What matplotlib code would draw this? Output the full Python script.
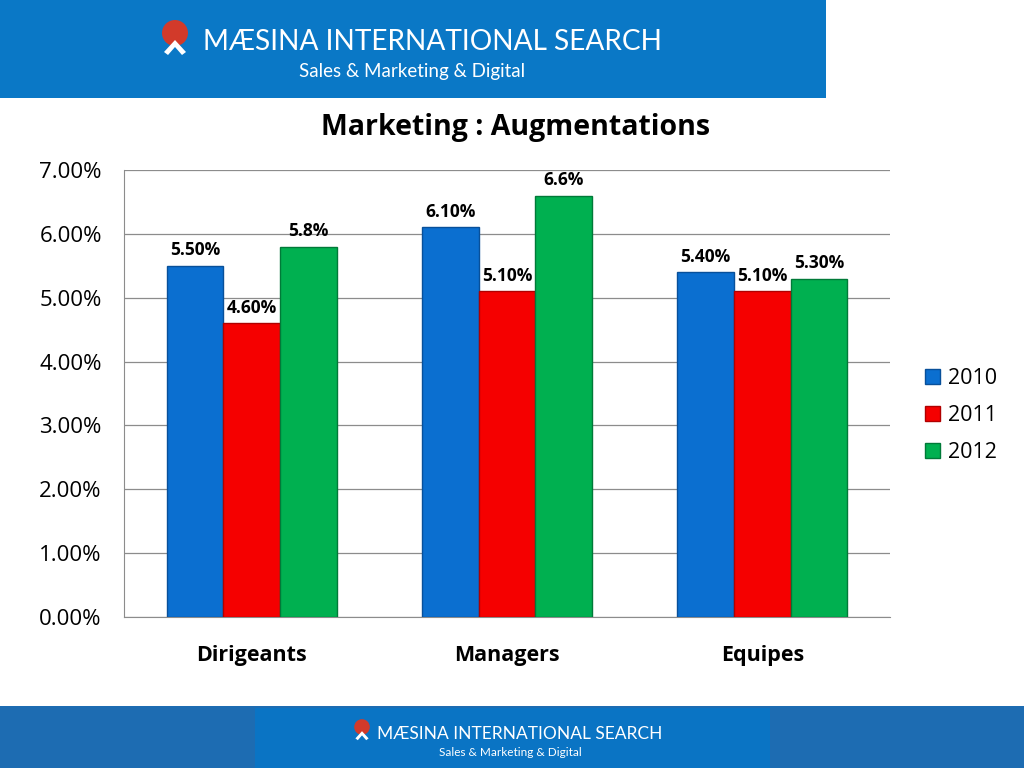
import numpy as np
import matplotlib.pyplot as plt
from matplotlib.patches import Rectangle, Ellipse, Polygon

# data
categories = ['Dirigeants', 'Managers', 'Equipes']
years = ['2010', '2011', '2012']
values = {
    '2010': [5.5, 6.1, 5.4],
    '2011': [4.6, 5.1, 5.1],
    '2012': [5.8, 6.6, 5.3],
}
value_labels = {
    '2010': ['5.50%', '6.10%', '5.40%'],
    '2011': ['4.60%', '5.10%', '5.10%'],
    '2012': ['5.8%', '6.6%', '5.30%'],
}
colors = {'2010': '#0b6fd0', '2011': '#f50000', '2012': '#00b050'}
edges = {'2010': '#08509a', '2011': '#b00000', '2012': '#007a38'}

plt.rcParams['font.family'] = ['Open Sans', 'DejaVu Sans']

fig = plt.figure(figsize=(10.24, 7.68), dpi=100)
W, H = 1024, 768


def fx(px):
    return px / W


def fy(py):
    return 1 - py / H


def logo(x0, y0, scale, size_main, size_sub, text_x, text_y, sub_x, sub_y):
    # red disc with white chevron
    r = 13 * scale
    fig.patches.append(Ellipse((fx(x0), fy(y0)), 2 * r / W, 2 * r / H,
                               transform=fig.transFigure, facecolor='#d23a2a',
                               edgecolor='none', zorder=3))
    pts = [(x0 - 11 * scale, y0 + 19 * scale), (x0, y0 + 7 * scale),
           (x0 + 11 * scale, y0 + 19 * scale), (x0 + 7 * scale, y0 + 22 * scale),
           (x0, y0 + 14 * scale), (x0 - 7 * scale, y0 + 22 * scale)]
    fig.patches.append(Polygon([(fx(a), fy(b)) for a, b in pts], closed=True,
                               transform=fig.transFigure, facecolor='white',
                               edgecolor='none', zorder=4))
    fig.text(fx(text_x), fy(text_y), 'MÆSINA INTERNATIONAL SEARCH',
             color='white', fontsize=size_main, family='Lato', va='center', ha='left',
             zorder=5)
    fig.text(fx(sub_x), fy(sub_y), 'Sales & Marketing & Digital', color='white',
             fontsize=size_sub, family='Lato', va='center', ha='center', zorder=5)


# top banner
fig.patches.append(Rectangle((0, fy(98)), fx(826), 98 / H, transform=fig.transFigure,
                             facecolor='#0a78c6', edgecolor='none', zorder=1))
logo(175, 33, 1.0, 20.2, 13.5, 203, 42, 412, 71)

# bottom banner
fig.patches.append(Rectangle((0, 0), 1, fy(706), transform=fig.transFigure,
                             facecolor='#1d6cb2', edgecolor='none', zorder=1))
fig.patches.append(Rectangle((fx(255), 0), fx(770) - fx(255), fy(708),
                             transform=fig.transFigure, facecolor='#0a74c4',
                             edgecolor='none', zorder=2))
logo(362, 727, 0.6, 12.5, 8.5, 377, 734, 510, 752)

# chart
ax = fig.add_axes([fx(124), fy(617), fx(890) - fx(124), fy(170) - fy(617)])
x = np.arange(len(categories))
bw = 0.222
for i, yr in enumerate(years):
    pos = x + (i - 1) * bw
    ax.bar(pos, values[yr], width=bw, color=colors[yr], edgecolor=edges[yr],
           linewidth=1, zorder=3, label=yr)
    for p, v, lab in zip(pos, values[yr], value_labels[yr]):
        ax.text(p, v + 0.1, lab, ha='center', va='bottom', fontsize=12.5,
                fontweight='bold', family='Open Sans', zorder=4)

ax.set_xlim(-0.5, 2.5)
ax.set_ylim(0, 7)
ax.set_yticks(np.arange(0, 8, 1))
ax.set_yticklabels([f'{v:.2f}%' for v in range(8)], fontsize=16)
ax.set_xticks(x)
ax.set_xticklabels(categories, fontsize=15.5, fontweight='bold')
ax.tick_params(axis='both', length=0)
ax.tick_params(axis='y', pad=16)
ax.tick_params(axis='x', pad=20)
ax.grid(axis='y', color='#8c8c8c', linewidth=0.9, zorder=0)
for s in ['top', 'right']:
    ax.spines[s].set_visible(False)
ax.spines['left'].set_color('#8c8c8c')
ax.spines['bottom'].set_color('#8c8c8c')

fig.text(fx(516), fy(127), 'Marketing : Augmentations', ha='center', va='center',
         fontsize=20.5, fontweight='bold')

ax.legend(loc='center left', bbox_to_anchor=(1.02, 0.45), frameon=False,
          fontsize=15.5, handlelength=0.7, handleheight=0.7, labelspacing=0.75,
          handletextpad=0.4)

fig.savefig('out.png', dpi=100)
